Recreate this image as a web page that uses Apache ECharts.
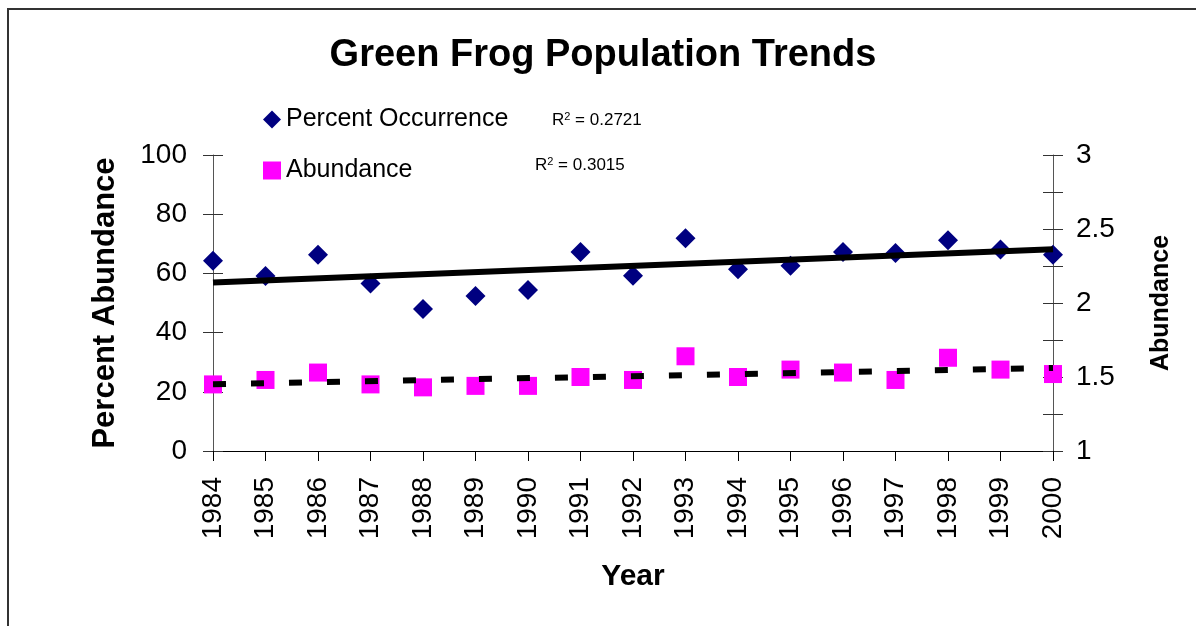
<!DOCTYPE html>
<html>
<head>
<meta charset="utf-8">
<script src="https://cdn.jsdelivr.net/npm/echarts@6/dist/echarts.min.js"></script>
<style>
html,body{margin:0;padding:0;background:#fff;}
#chart{width:1196px;height:626px;}
</style>
</head>
<body>
<div id="chart"></div>
<script>
// ---- data ----
var years = ['1984','1985','1986','1987','1988','1989','1990','1991','1992','1993','1994','1995','1996','1997','1998','1999','2000'];
var percentOccurrence = [64.3, 59.1, 66.3, 56.6, 48.0, 52.4, 54.4, 67.2, 59.2, 71.9, 61.4, 62.6, 67.2, 66.9, 71.2, 68.1, 66.3];
var abundance = [1.45, 1.48, 1.53, 1.45, 1.43, 1.44, 1.44, 1.50, 1.48, 1.64, 1.50, 1.55, 1.53, 1.48, 1.63, 1.55, 1.52];
var leftTicks = [0, 20, 40, 60, 80, 100];
var rightTicks = [1, 1.5, 2, 2.5, 3];
var r2Percent = '0.2721';
var r2Abundance = '0.3015';

// least-squares trend line (endpoints) derived from a data series
function trend(vals) {
  var n = vals.length, sx = 0, sy = 0, sxy = 0, sxx = 0;
  for (var i = 0; i < n; i++) { sx += i; sy += vals[i]; sxy += i * vals[i]; sxx += i * i; }
  var b = (n * sxy - sx * sy) / (n * sxx - sx * sx);
  var a = (sy - b * sx) / n;
  return [[0, a], [n - 1, a + b * (n - 1)]];
}

var FONT = '"Liberation Sans", Arial, sans-serif';
var chart = echarts.init(document.getElementById('chart'));

function rightFmt(v) {
  for (var i = 0; i < rightTicks.length; i++) if (Math.abs(v - rightTicks[i]) < 1e-9) return String(rightTicks[i]);
  return '';
}

var option = {
  backgroundColor: '#fff',
  animation: false,
  textStyle: { fontFamily: FONT },
  grid: { left: 213, top: 155, width: 840, height: 296, containLabel: false },
  legend: {
    orient: 'vertical',
    left: 258,
    top: 102,
    itemWidth: 18,
    itemHeight: 18,
    itemGap: 26,
    textStyle: { fontSize: 25, color: '#000', fontFamily: FONT, lineHeight: 24 },
    data: [
      { name: 'Percent Occurrence', icon: 'diamond' },
      { name: 'Abundance', icon: 'rect' }
    ]
  },
  xAxis: {
    type: 'category',
    data: years,
    boundaryGap: false,
    name: 'Year',
    nameLocation: 'middle',
    nameGap: 111,
    nameTextStyle: { fontSize: 30, fontWeight: 'bold', color: '#000', fontFamily: FONT },
    axisLine: { lineStyle: { color: '#000', width: 1 } },
    axisTick: { show: true, length: 10, alignWithLabel: true, lineStyle: { color: '#000' } },
    axisLabel: { rotate: 90, fontSize: 28, color: '#000', margin: 26, fontFamily: FONT, interval: 0 },
    splitLine: { show: false }
  },
  yAxis: [
    {
      type: 'value', position: 'left', min: 0, max: 100, interval: 20,
      name: 'Percent Abundance', nameLocation: 'middle', nameRotate: 90, nameGap: 92,
      nameTextStyle: { fontSize: 31, fontWeight: 'bold', color: '#000', fontFamily: FONT },
      axisLine: { show: true, lineStyle: { color: '#555', width: 1 } },
      axisTick: { show: true, length: 10, lineStyle: { color: '#333' } },
      axisLabel: { fontSize: 28, color: '#000', margin: 26, fontFamily: FONT },
      splitLine: { show: false }
    },
    {
      type: 'value', position: 'right', min: 1, max: 3, interval: 0.25,
      name: 'Abundance', nameLocation: 'middle', nameRotate: 90, nameGap: 96,
      nameTextStyle: { fontSize: 25, fontWeight: 'bold', color: '#000', fontFamily: FONT },
      axisLine: { show: true, lineStyle: { color: '#555', width: 1 } },
      axisTick: { show: true, length: 10, lineStyle: { color: '#333' } },
      axisLabel: { fontSize: 28, color: '#000', margin: 23, fontFamily: FONT, formatter: rightFmt },
      splitLine: { show: false }
    },
    {
      type: 'value', position: 'left', min: 0, max: 100, interval: 20,
      axisLine: { show: false },
      axisTick: { show: true, inside: true, length: 10, lineStyle: { color: '#333' } },
      axisLabel: { show: false },
      splitLine: { show: false }
    },
    {
      type: 'value', position: 'right', min: 1, max: 3, interval: 0.25,
      axisLine: { show: false },
      axisTick: { show: true, inside: true, length: 10, lineStyle: { color: '#333' } },
      axisLabel: { show: false },
      splitLine: { show: false }
    }
  ],
  series: [
    {
      name: 'Percent Occurrence', type: 'scatter', yAxisIndex: 0,
      symbol: 'diamond', symbolSize: 20,
      itemStyle: { color: '#000080', opacity: 1 },
      data: percentOccurrence, z: 2
    },
    {
      name: 'Abundance', type: 'scatter', yAxisIndex: 1,
      symbol: 'rect', symbolSize: 18,
      itemStyle: { color: '#FF00FF', opacity: 1 },
      data: abundance, z: 2
    },
    {
      name: 'Percent trend', type: 'line', yAxisIndex: 0,
      showSymbol: false, symbol: 'none',
      lineStyle: { color: '#000', width: 6, type: 'solid' },
      data: trend(percentOccurrence), z: 3, silent: true
    },
    {
      name: 'Abundance trend', type: 'line', yAxisIndex: 1,
      showSymbol: false, symbol: 'none',
      lineStyle: { color: '#000', width: 6, type: [13, 25] },
      data: trend(abundance), z: 3, silent: true
    }
  ],
  graphic: [
    {
      type: 'rect', silent: true, z: -1,
      shape: { x: 8, y: 9, width: 2000, height: 2000 },
      style: { fill: 'none', stroke: '#333', lineWidth: 2 }
    },
    {
      type: 'text', x: 603, y: 56,
      style: {
        text: 'Green Frog Population Trends', fill: '#000',
        font: 'bold 38px ' + FONT, textAlign: 'center', textVerticalAlign: 'middle'
      }
    },
    {
      type: 'text', x: 552, y: 120,
      style: {
        text: '{r|R}{s|2}{r| = ' + r2Percent + '}',
        textVerticalAlign: 'middle', textAlign: 'left',
        rich: {
          r: { fontSize: 17, fontFamily: FONT, color: '#000' },
          s: { fontSize: 11, fontFamily: FONT, color: '#000', verticalAlign: 'top', padding: [0, 0, 6, 0] }
        }
      }
    },
    {
      type: 'text', x: 535, y: 165,
      style: {
        text: '{r|R}{s|2}{r| = ' + r2Abundance + '}',
        textVerticalAlign: 'middle', textAlign: 'left',
        rich: {
          r: { fontSize: 17, fontFamily: FONT, color: '#000' },
          s: { fontSize: 11, fontFamily: FONT, color: '#000', verticalAlign: 'top', padding: [0, 0, 6, 0] }
        }
      }
    }
  ]
};
chart.setOption(option);
</script>
</body>
</html>
